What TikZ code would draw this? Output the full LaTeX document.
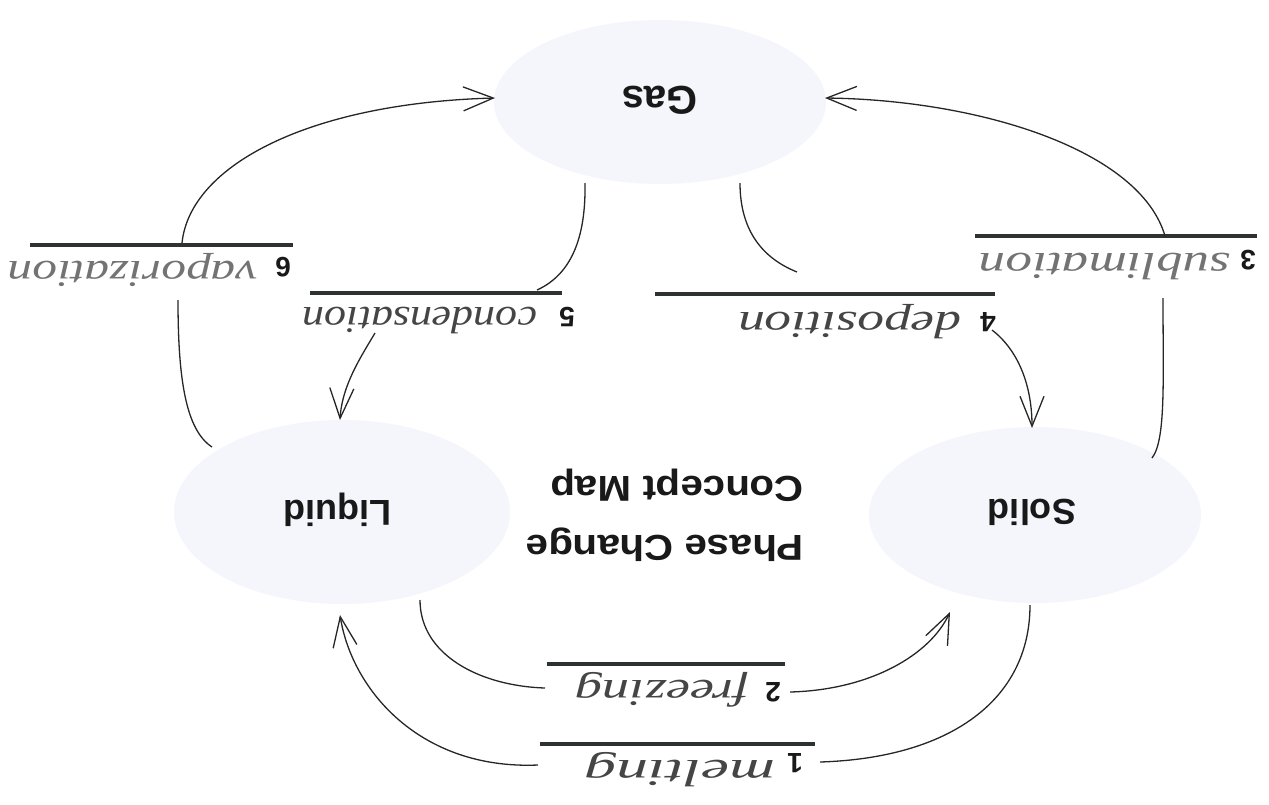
\documentclass[tikz,border=0pt]{standalone}
\usepackage{fontspec}
\setmainfont{Liberation Sans}
\newfontfamily\handfont{Liberation Serif}
\usetikzlibrary{arrows.meta}
\definecolor{bubble}{HTML}{F5F5FC}
\definecolor{barcol}{HTML}{2E3331}
\definecolor{inkcol}{HTML}{454545}
\tikzset{
  statetext/.style={rotate=180, font=\bfseries\fontsize{36}{40}\selectfont, text=black!90},
  numtext/.style={rotate=180, font=\bfseries\fontsize{28}{30}\selectfont, text=black!90},
  handtext/.style={rotate=180, font=\handfont\itshape\fontsize{38}{40}\selectfont, text=inkcol, inner sep=0pt},
  barline/.style={line width=4pt, draw=barcol},
  conn/.style={line width=1.3pt, draw=black!85},
  arr/.style={conn, -{Straight Barb[length=30pt,width=24pt,line width=1.3pt]}},
}
\begin{document}
\begin{tikzpicture}[x=1pt,y=-1pt]
\useasboundingbox (0,0) rectangle (1269,804);
% bubbles
\fill[bubble] (660,102) ellipse [x radius=166, y radius=82];
\fill[bubble] (342,512) ellipse [x radius=168, y radius=92];
\fill[bubble] (1035,515) ellipse [x radius=166, y radius=88];
\node[statetext, font=\bfseries\fontsize{40}{44}\selectfont] (gas) at (660,100) {Gas};
\node[statetext] (liquid) at (338,510) {Liquid};
\node[statetext] (solid) at (1032,512) {Solid};
\node[rotate=180, xscale=1.12, align=left, font=\bfseries\fontsize{36}{59}\selectfont, text=black!90] (title) at (665,515) {Phase Change\\Concept Map};
% anchor points on bubbles
\coordinate (gasL) at (495,98);
\coordinate (gasR) at (825,98);
\coordinate (gasBL) at (585,183);
\coordinate (gasBR) at (740,183);
\coordinate (liqT) at (212,447);
\coordinate (liqTR) at (340,420);
\coordinate (liqB) at (420,600);
\coordinate (liqBm) at (340,615);
\coordinate (solT) at (1032,428);
\coordinate (solTR) at (1152,458);
\coordinate (solB) at (950,612);
\coordinate (solBm) at (1030,605);
% bars
\draw[barline] (30,245) coordinate (b6l) -- (293,245) coordinate (b6r);
\draw[barline] (310,293) coordinate (b5l) -- (562,293) coordinate (b5r);
\draw[barline] (655,294) coordinate (b4l) -- (995,294) coordinate (b4r);
\draw[barline] (975,236) coordinate (b3l) -- (1257,236) coordinate (b3r);
\draw[barline] (547,664) coordinate (b2l) -- (785,664) coordinate (b2r);
\draw[barline] (540,744) coordinate (b1l) -- (815,744) coordinate (b1r);
% numbers
\node[numtext] (n6) at (283,267) {6};
\node[numtext] (n5) at (567,317) {5};
\node[numtext] (n4) at (988,322) {4};
\node[numtext] (n3) at (1248,260) {3};
\node[numtext] (n2) at (773,692) {2};
\node[numtext] (n1) at (795,763) {1};
% handwritten words
\node[handtext, xscale=1.30, text=black!55] (h6) at (133,270) {vaporization};
\node[handtext, xscale=1.16] (h5) at (420,320) {condensation};
\node[handtext, xscale=1.41] (h4) at (850,322) {deposition};
\node[handtext, xscale=1.40, text=black!55] (h3) at (1105,266) {sublimation};
\node[handtext, xscale=1.43] (h2) at (662,690) {freezing};
\node[handtext, xscale=1.67] (h1) at (680,770) {melting};
% label attach points
\coordinate (a6t) at (182,243);
\coordinate (a6b) at (178,300);
\coordinate (a5t) at (537,290);
\coordinate (a5b) at (375,333);
\coordinate (a4t) at (797,272);
\coordinate (a4b) at (992,330);
\coordinate (a3t) at (1165,236);
\coordinate (a3b) at (1163,298);
\coordinate (a2l) at (545,688);
\coordinate (a2r) at (790,692);
\coordinate (a1l) at (538,765);
\coordinate (a1r) at (820,762);
% connectors
% vaporization: Liquid -> 6 -> Gas
\draw[conn] (liqT) .. controls (186,430) and (178,380) .. (a6b);
\draw[arr] (a6t) .. controls (190,165) and (310,103) .. (gasL);
% condensation: Gas -> 5 -> Liquid
\draw[conn] (gasBL) .. controls (586,240) and (570,275) .. (a5t);
\draw[arr] (a5b) .. controls (362,355) and (342,385) .. (liqTR);
% deposition: Gas -> 4 -> Solid
\draw[conn] (gasBR) .. controls (740,230) and (762,258) .. (a4t);
\draw[arr] (a4b) .. controls (1018,350) and (1032,385) .. (solT);
% sublimation: Solid -> 3 -> Gas
\draw[conn] (solTR) .. controls (1166,440) and (1163,380) .. (a3b);
\draw[arr] (a3t) .. controls (1140,150) and (980,100) .. (gasR);
% freezing: Liquid -> 2 -> Solid
\draw[conn] (liqB) .. controls (420,655) and (480,686) .. (a2l);
\draw[arr] (a2r) .. controls (870,690) and (930,655) .. (solB);
% melting: Solid -> 1 -> Liquid
\draw[conn] (solBm) .. controls (1030,700) and (950,758) .. (a1r);
\draw[arr] (a1l) .. controls (420,770) and (352,690) .. (liqBm);
\end{tikzpicture}
\end{document}
